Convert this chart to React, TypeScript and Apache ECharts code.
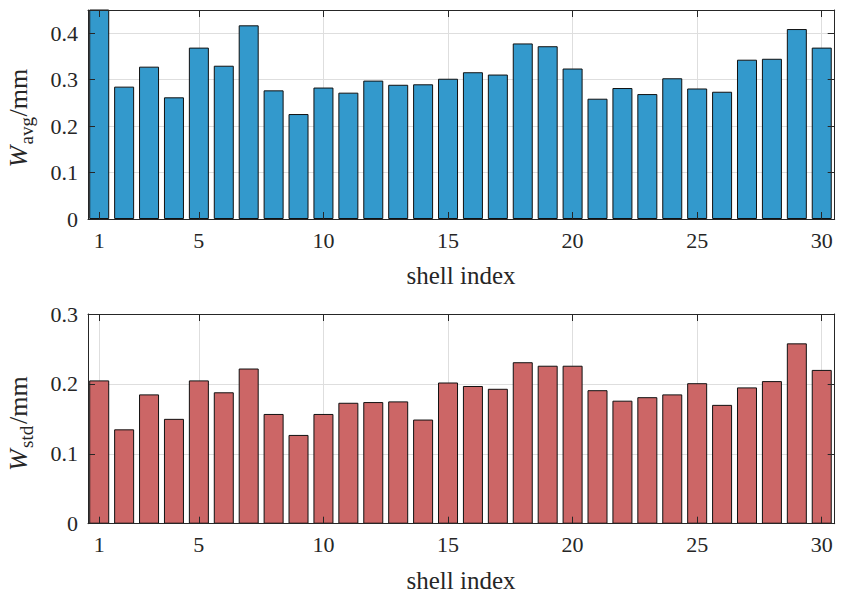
import { useEffect, useRef } from 'react';
import * as echarts from 'echarts';

// shell index on the x axis of both panels
const shellIndex = [
  1, 2, 3, 4, 5, 6, 7, 8, 9, 10, 11, 12, 13, 14, 15,
  16, 17, 18, 19, 20, 21, 22, 23, 24, 25, 26, 27, 28, 29, 30,
];

// average width (mm), bar 1 runs past the top of the axes
const wAvg = [
  0.47, 0.285, 0.328, 0.262, 0.369, 0.33, 0.417, 0.277, 0.226, 0.283,
  0.272, 0.298, 0.289, 0.29, 0.302, 0.316, 0.311, 0.378, 0.372, 0.324,
  0.259, 0.282, 0.269, 0.303, 0.281, 0.274, 0.343, 0.345, 0.409, 0.369,
];

// standard deviation of width (mm)
const wStd = [
  0.205, 0.135, 0.185, 0.15, 0.205, 0.188, 0.222, 0.157, 0.127, 0.157,
  0.173, 0.174, 0.175, 0.149, 0.202, 0.197, 0.193, 0.231, 0.226, 0.226,
  0.191, 0.176, 0.181, 0.185, 0.201, 0.17, 0.195, 0.204, 0.258, 0.22,
];

const xTicks = [1, 5, 10, 15, 20, 25, 30];
const avgTicks = [0, 0.1, 0.2, 0.3, 0.4];
const stdTicks = [0, 0.1, 0.2, 0.3];

const ink = '#262626';
const serif = 'Liberation Serif';
const gridColor = '#dedede';

const X_MIN = 0.55;
const X_MAX = 30.52;

const tickRich = { t: { color: ink, fontFamily: serif, fontSize: 22 } };

function xAxes(gridIndex: number) {
  return [
    {
      type: 'value',
      gridIndex,
      position: 'bottom',
      min: X_MIN,
      max: X_MAX,
      z: 3,
      axisLine: { show: true, onZero: false, lineStyle: { color: ink, width: 1 } },
      axisTick: { show: true, inside: true, length: 7, customValues: xTicks, lineStyle: { color: ink } },
      axisLabel: {
        show: true,
        customValues: xTicks,
        margin: 10,
        formatter: (v: number) => `{t|${v}}`,
        rich: tickRich,
      },
      splitLine: { show: false },
    },
    {
      type: 'value',
      gridIndex,
      position: 'top',
      min: X_MIN,
      max: X_MAX,
      z: 3,
      axisLine: { show: true, onZero: false, lineStyle: { color: ink, width: 1 } },
      axisTick: { show: true, inside: true, length: 7, customValues: xTicks, lineStyle: { color: ink } },
      axisLabel: { show: false },
      splitLine: { show: false },
    },
    {
      type: 'value',
      gridIndex,
      position: 'bottom',
      min: X_MIN,
      max: X_MAX,
      z: 0,
      axisLine: { show: false },
      axisTick: { show: false, customValues: xTicks },
      axisLabel: { show: false, customValues: xTicks },
      splitLine: { show: true, lineStyle: { color: gridColor, width: 1 } },
    },
  ];
}

function yAxes(gridIndex: number, max: number, ticks: number[]) {
  const fmt = (v: number) => (v === 0 ? '0' : v.toFixed(1));
  return [
    {
      type: 'value',
      gridIndex,
      position: 'left',
      min: 0,
      max,
      interval: 0.1,
      z: 3,
      axisLine: { show: true, lineStyle: { color: ink, width: 1 } },
      axisTick: { show: true, inside: true, length: 7, customValues: ticks, lineStyle: { color: ink } },
      axisLabel: {
        show: true,
        customValues: ticks,
        margin: 10,
        formatter: (v: number) => `{t|${fmt(v)}}`,
        rich: tickRich,
      },
      splitLine: { show: false },
    },
    {
      type: 'value',
      gridIndex,
      position: 'right',
      min: 0,
      max,
      interval: 0.1,
      z: 3,
      axisLine: { show: true, lineStyle: { color: ink, width: 1 } },
      axisTick: { show: true, inside: true, length: 7, customValues: ticks, lineStyle: { color: ink } },
      axisLabel: { show: false },
      splitLine: { show: false },
    },
    {
      type: 'value',
      gridIndex,
      position: 'left',
      min: 0,
      max,
      interval: 0.1,
      z: 0,
      axisLine: { show: false },
      axisTick: { show: false, customValues: ticks },
      axisLabel: { show: false, customValues: ticks },
      splitLine: { show: true, lineStyle: { color: gridColor, width: 1 } },
    },
  ];
}

// rotated y label: a group turned 90 degrees holding italic W, subscript and /mm
// local frame: x runs along the text (upwards on screen), y runs to the right on screen
function yLabel(sub: string, cx: number, cy: number, subWidth: number) {
  const wWidth = 23;
  const unitWidth = 47;
  const total = wWidth + subWidth + unitWidth;
  const start = -total / 2;
  const piece = (text: string, x: number, y: number, size: number, italic: boolean) => ({
    type: 'text',
    x,
    y,
    style: {
      text,
      align: 'left',
      verticalAlign: 'middle',
      fontFamily: serif,
      fontStyle: italic ? 'italic' : 'normal',
      fontSize: size,
      fill: ink,
    },
  });
  return {
    type: 'group',
    x: cx,
    y: cy,
    rotation: Math.PI / 2,
    children: [
      piece('W', start, 0, 26, true),
      piece(sub, start + wWidth, 8, 19, false),
      piece('/mm', start + wWidth + subWidth, 0, 26, false),
    ],
  };
}

function xLabel(y: number) {
  return {
    type: 'text',
    x: 461,
    y,
    style: {
      text: 'shell index',
      align: 'center',
      verticalAlign: 'middle',
      fontFamily: serif,
      fontSize: 25,
      fill: ink,
    },
  };
}

export default function App() {
  const chartRef = useRef<HTMLDivElement>(null);

  useEffect(() => {
    if (!chartRef.current) return;
    document.body.style.margin = '0';

    const chart = echarts.init(chartRef.current, undefined, { renderer: 'svg' });

    const option: any = {
      animation: false,
      backgroundColor: '#ffffff',
      textStyle: { fontFamily: serif },
      grid: [
        { left: 88, top: 10, right: 8.3, height: 209 },
        { left: 88, top: 314, right: 8.3, height: 209.7 },
      ],
      xAxis: [...xAxes(0), ...xAxes(1)],
      yAxis: [...yAxes(0, 0.45, avgTicks), ...yAxes(1, 0.3, stdTicks)],
      series: [
        {
          type: 'bar',
          xAxisIndex: 0,
          yAxisIndex: 0,
          barWidth: 20,
          data: shellIndex.map((s, i) => [s, wAvg[i]]),
          itemStyle: { color: '#3399cc', borderColor: '#111111', borderWidth: 1 },
          z: 2,
        },
        {
          type: 'bar',
          xAxisIndex: 3,
          yAxisIndex: 3,
          barWidth: 20,
          data: shellIndex.map((s, i) => [s, wStd[i]]),
          itemStyle: { color: '#cc6666', borderColor: '#111111', borderWidth: 1 },
          z: 2,
        },
      ],
      graphic: [
        yLabel('avg', 18, 118.5, 28),
        yLabel('std', 18, 424, 24),
        xLabel(275),
        xLabel(580),
      ],
    };

    chart.setOption(option);

    const handleResize = () => {
      chart.resize();
    };
    window.addEventListener('resize', handleResize);

    return () => {
      window.removeEventListener('resize', handleResize);
      chart.dispose();
    };
  }, []);

  return <div ref={chartRef} style={{ width: '843px', height: '592px' }} />;
}
